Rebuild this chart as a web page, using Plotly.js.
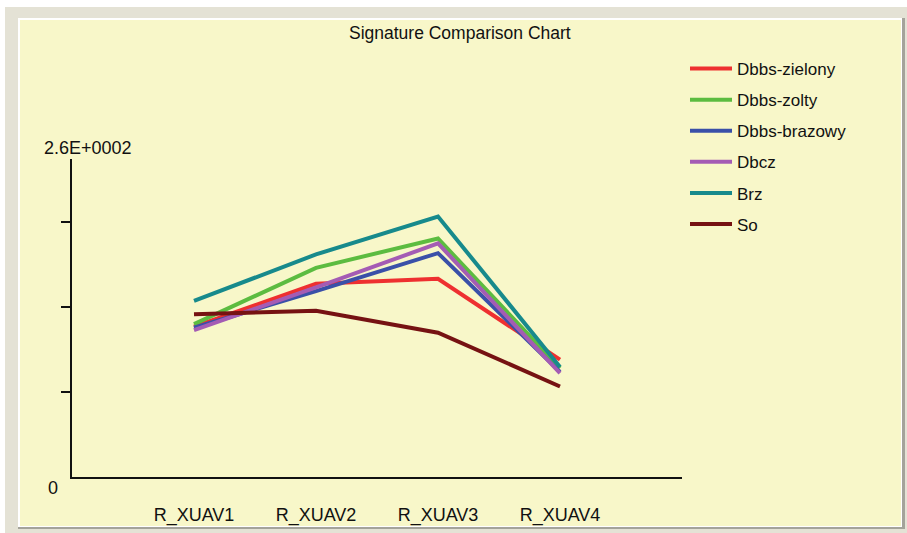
<!DOCTYPE html>
<html>
<head>
<meta charset="utf-8">
<script src="https://cdn.plot.ly/plotly-3.0.1.min.js"></script>
<style>html,body{margin:0;padding:0;background:#fff;}#chart{width:907px;height:533px;}</style>
</head>
<body>
<div id="chart"></div>
<script>
var categories = ['R_XUAV1', 'R_XUAV2', 'R_XUAV3', 'R_XUAV4'];
var seriesNames = ['Dbbs-zielony', 'Dbbs-zolty', 'Dbbs-brazowy', 'Dbcz', 'Brz', 'So'];
var dbbsZielony = [123, 158, 162, 96];
var dbbsZolty = [125, 171, 195, 89];
var dbbsBrazowy = [122, 152, 183, 86];
var dbcz = [120, 155, 191, 85];
var brz = [144, 182, 213, 90];
var so = [133, 136, 118, 74];
var seriesColors = ['#ee3030', '#5cbc40', '#3a50a8', '#a45cb4', '#178a8c', '#761212'];
var yTickVals = [69.5, 139, 208.5];
var yMax = 260;
var yTopLabel = '2.6E+0002';
var yBottomLabel = '0';

var allSeries = [dbbsZielony, dbbsZolty, dbbsBrazowy, dbcz, brz, so];
var traces = allSeries.map(function (vals, i) {
  return {
    type: 'scatter', mode: 'lines', x: categories, y: vals,
    name: seriesNames[i], legendgroup: 'g' + i,
    line: {color: seriesColors[i], width: 4}
  };
});

// pixel -> paper helpers (plot area 72..682 x, 159..477 y)
var L = 72, R = 682, T = 159, B = 477;
function px(x) { return (x - L) / (R - L); }
function py(y) { return (B - y) / (B - T); }
function rect(x0, y0, x1, y1, fill) {
  return {type: 'rect', xref: 'paper', yref: 'paper', layer: 'below',
    x0: px(x0), x1: px(x1), y0: py(y1), y1: py(y0), fillcolor: fill, line: {width: 0}};
}

var font = 'Liberation Sans, Arial, sans-serif';
var layout = {
  width: 907, height: 533,
  margin: {l: L, r: 907 - R, t: T, b: 533 - B, pad: 0},
  paper_bgcolor: '#ffffff',
  plot_bgcolor: 'rgba(0,0,0,0)',
  font: {family: font, size: 17, color: '#111111'},
  title: {text: 'Signature Comparison Chart', font: {family: font, size: 17.5, color: '#111111'},
    xref: 'container', yref: 'container', x: 0.507, y: 1 - 33 / 533, xanchor: 'center', yanchor: 'middle'},
  showlegend: true,
  legend: {x: px(685), y: py(51), xanchor: 'left', yanchor: 'top', bgcolor: 'rgba(0,0,0,0)',
    borderwidth: 0, font: {family: font, size: 17, color: '#111111'}, tracegroupgap: 6,
    itemwidth: 42, traceorder: 'grouped'},
  xaxis: {type: 'category', range: [-1, 4], showgrid: false, zeroline: false,
    showline: true, linecolor: '#111111', linewidth: 2, ticks: '',
    tickfont: {family: font, size: 18, color: '#111111'}, ticklabelstandoff: 20, fixedrange: true},
  yaxis: {range: [0, yMax], showgrid: false, zeroline: false, showline: true,
    linecolor: '#111111', linewidth: 2, ticks: 'outside', ticklen: 9, tickwidth: 2, tickcolor: '#111111',
    tickmode: 'array', tickvals: yTickVals, showticklabels: false, fixedrange: true},
  shapes: [
    rect(5, 7, 907, 533, '#e4e2d5'),
    rect(18, 18, 905, 529, '#a4a39a'),
    rect(18, 18, 902, 527, '#ffffff'),
    rect(20, 20, 901, 526, '#f8f7c9')
  ],
  annotations: [
    {xref: 'paper', yref: 'y', x: px(88), y: yMax, text: yTopLabel, showarrow: false,
      xanchor: 'center', yanchor: 'middle', yshift: 11, font: {family: font, size: 18, color: '#111111'}},
    {xref: 'paper', yref: 'y', x: px(53), y: 0, text: yBottomLabel, showarrow: false,
      xanchor: 'center', yanchor: 'middle', yshift: -11, font: {family: font, size: 18, color: '#111111'}}
  ]
};

Plotly.newPlot('chart', traces, layout, {staticPlot: true, displayModeBar: false});
</script>
</body>
</html>
